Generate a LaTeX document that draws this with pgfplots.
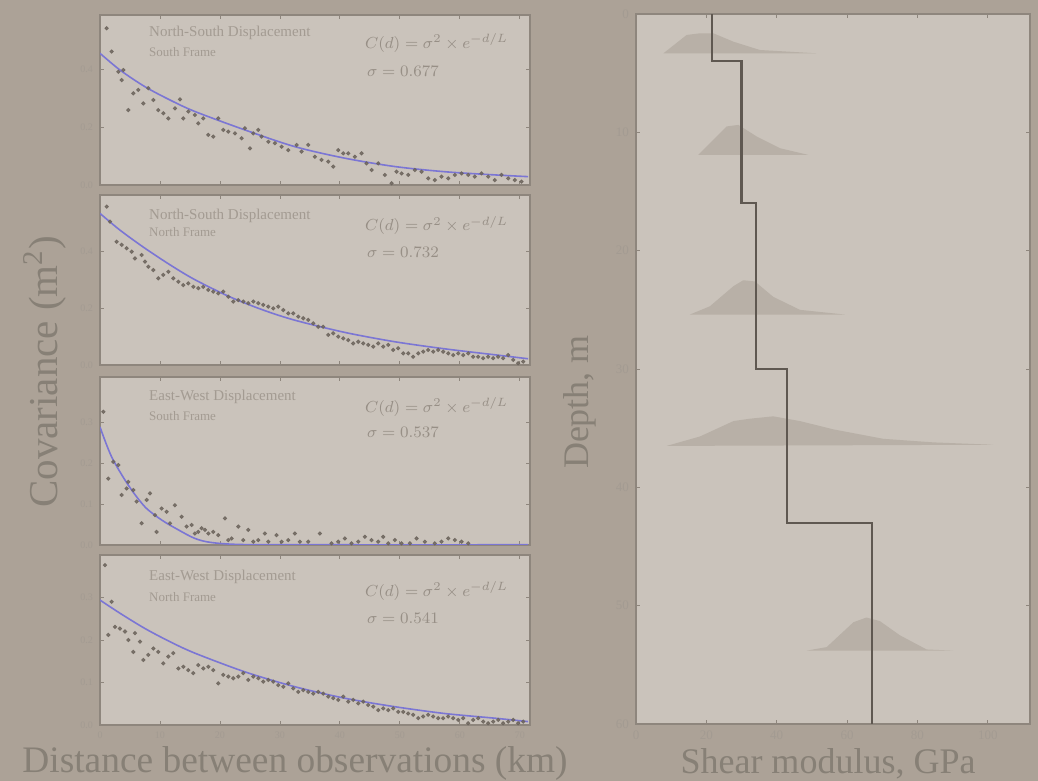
\documentclass[border=0pt]{standalone}
\usepackage{fontspec}
\setmainfont{Liberation Serif}
\usepackage{pgfplots}
\pgfplotsset{compat=1.18}
\definecolor{bgc}{HTML}{ACA297}
\definecolor{panelc}{HTML}{CAC3BB}
\definecolor{framec}{HTML}{8E867D}
\definecolor{faint}{HTML}{A39B92}
\definecolor{formc}{HTML}{978F86}
\definecolor{dotc}{HTML}{6A625A}
\definecolor{fitc}{HTML}{7B76D4}
\definecolor{labc}{HTML}{878076}
\definecolor{stepc}{HTML}{5F5851}
\definecolor{distc}{HTML}{B8B0A7}
\pgfplotsset{
 panel/.style={scale only axis, width=215pt, height=85pt, xmin=0, xmax=71.7, ymin=0,
   axis background/.style={fill=panelc}, axis line style={draw=framec, line width=1pt},
   xtick={0,10,...,70}, tick style={draw=framec, line width=0.4pt}, major tick length=2pt,
   tick align=inside, tick label style={font=\fontsize{5}{6}\selectfont, text=faint},
   /pgf/number format/assume math mode=true, /pgf/number format/fixed,
   /pgf/number format/precision=1, /pgf/number format/fixed zerofill},
 dots/.style={only marks, mark=*, mark size=0.85pt, color=dotc, opacity=0.8},
 fit/.style={fitc, line width=0.8pt, smooth, no marks},
}
\tikzset{
 ttl/.style={anchor=west, text=faint, font=\fontsize{7.5}{8}\selectfont},
 sub/.style={anchor=west, text=faint, font=\fontsize{6.5}{7}\selectfont},
 frm/.style={anchor=west, text=formc, font=\fontsize{8.5}{9}\selectfont},
}
\begin{document}
\begin{tikzpicture}
\useasboundingbox (0,0) rectangle (519pt,390.5pt);
\fill[bgc] (0,0) rectangle (519pt,390.5pt);

% Panel 1
\begin{axis}[panel, at={(50pt,298pt)}, anchor=south west, ymax=0.59, ytick={0,0.2,0.4}, xticklabels={}]
\addplot[dots] coordinates {(1.11,0.544)(1.94,0.463)(3.06,0.393)(3.89,0.399)(3.61,0.364)(5.56,0.318)(6.39,0.330)(4.72,0.260)(7.22,0.283)(8.06,0.336)(8.89,0.295)(9.72,0.260)(10.56,0.249)(11.39,0.231)(12.5,0.266)(13.33,0.297)(13.89,0.231)(14.72,0.255)(15.83,0.243)(16.39,0.214)(17.22,0.231)(18.06,0.174)(18.89,0.168)(19.72,0.231)(20.56,0.191)(21.39,0.185)(22.5,0.179)(23.61,0.162)(24.17,0.197)(25.0,0.127)(25.56,0.179)(26.39,0.191)(26.94,0.168)(28.06,0.150)(29.17,0.145)(30.28,0.133)(31.39,0.121)(32.78,0.139)(33.61,0.116)(34.72,0.139)(35.83,0.098)(36.94,0.087)(38.06,0.081)(38.89,0.064)(39.72,0.121)(40.56,0.110)(41.39,0.110)(42.5,0.098)(43.61,0.110)(44.44,0.075)(45.28,0.052)(46.39,0.075)(47.5,0.035)(48.61,0.006)(49.44,0.046)(50.28,0.040)(51.39,0.035)(52.5,0.052)(53.61,0.046)(54.72,0.023)(55.83,0.017)(56.94,0.029)(58.06,0.023)(59.17,0.035)(60.28,0.040)(61.39,0.035)(62.5,0.029)(63.61,0.040)(64.72,0.029)(65.83,0.017)(66.94,0.035)(68.06,0.023)(69.17,0.017)(70.28,0.012)};
\addplot[fit] coordinates {(0,0.457)(3.33,0.399)(7.5,0.341)(11.67,0.295)(15.83,0.255)(24.17,0.191)(32.5,0.133)(40.83,0.093)(49.17,0.064)(57.5,0.046)(65.83,0.035)(71.39,0.029)};
\node[ttl] at (rel axis cs:0.098,0.894) {North-South Displacement};
\node[sub] at (rel axis cs:0.098,0.784) {South Frame};
\node[frm] at (rel axis cs:0.6,0.835) {$C(d)=\sigma^2\times e^{-d/L}$};
\node[frm] at (rel axis cs:0.605,0.666) {$\sigma=0.677$};
\end{axis}

% Panel 2
\begin{axis}[panel, at={(50pt,208pt)}, anchor=south west, ymax=0.6, ytick={0,0.2,0.4}, xticklabels={}]
\addplot[dots] coordinates {(1.11,0.559)(1.67,0.506)(2.78,0.435)(3.61,0.424)(4.44,0.412)(5.28,0.400)(5.83,0.376)(6.94,0.388)(7.5,0.365)(8.06,0.347)(8.89,0.335)(9.72,0.306)(10.56,0.318)(11.39,0.329)(12.22,0.306)(13.06,0.294)(13.89,0.282)(14.72,0.288)(15.56,0.276)(16.39,0.271)(17.22,0.276)(18.06,0.265)(18.89,0.259)(19.72,0.253)(20.56,0.259)(21.39,0.241)(22.22,0.224)(23.06,0.229)(23.89,0.224)(24.72,0.218)(25.56,0.224)(26.39,0.218)(27.22,0.212)(28.06,0.206)(28.89,0.200)(29.72,0.206)(30.56,0.194)(31.39,0.182)(32.22,0.182)(33.06,0.171)(33.89,0.165)(34.72,0.159)(35.56,0.147)(36.39,0.135)(37.22,0.135)(38.06,0.106)(38.89,0.112)(39.72,0.100)(40.56,0.094)(41.39,0.088)(42.22,0.076)(43.06,0.082)(43.89,0.076)(44.72,0.071)(45.56,0.065)(46.39,0.076)(47.22,0.065)(48.06,0.071)(48.89,0.053)(49.72,0.059)(50.56,0.041)(51.39,0.041)(52.22,0.029)(53.06,0.041)(53.89,0.047)(54.72,0.053)(55.56,0.047)(56.39,0.053)(57.22,0.047)(58.06,0.041)(58.89,0.035)(59.72,0.041)(60.56,0.035)(61.39,0.041)(62.22,0.029)(63.06,0.029)(63.89,0.024)(64.72,0.029)(65.56,0.024)(66.39,0.029)(67.22,0.024)(68.06,0.035)(68.89,0.018)(69.72,0.006)(70.56,0.012)};
\addplot[fit] coordinates {(0,0.535)(3.33,0.476)(7.5,0.412)(11.94,0.350)(15.83,0.301)(21.39,0.243)(26.94,0.196)(32.5,0.158)(40.83,0.115)(49.17,0.082)(57.5,0.057)(65.83,0.036)(71.39,0.022)};
\node[ttl] at (rel axis cs:0.098,0.88) {North-South Displacement};
\node[sub] at (rel axis cs:0.098,0.784) {North Frame};
\node[frm] at (rel axis cs:0.6,0.82) {$C(d)=\sigma^2\times e^{-d/L}$};
\node[frm] at (rel axis cs:0.605,0.66) {$\sigma=0.732$};
\end{axis}

% Panel 3
\begin{axis}[panel, at={(50pt,118pt)}, anchor=south west, height=84pt, ymax=0.41, ytick={0,0.1,0.2,0.3}, xticklabels={}]
\addplot[dots] coordinates {(0.56,0.325)(1.39,0.162)(2.22,0.203)(3.06,0.195)(3.61,0.122)(4.44,0.138)(4.72,0.154)(5.56,0.134)(6.11,0.106)(6.94,0.053)(7.78,0.110)(8.33,0.126)(9.17,0.073)(9.44,0.032)(10.28,0.089)(11.11,0.081)(11.67,0.053)(12.5,0.097)(13.61,0.069)(14.44,0.045)(15.28,0.049)(15.83,0.028)(16.39,0.032)(16.94,0.041)(17.5,0.037)(18.06,0.028)(18.89,0.032)(19.72,0.024)(20.83,0.065)(21.39,0.012)(21.94,0.016)(23.06,0.045)(23.89,0.012)(24.72,0.037)(25.56,0.008)(26.39,0.012)(27.5,0.028)(28.06,0.008)(29.44,0.024)(30.28,0.008)(31.39,0.012)(32.5,0.028)(33.33,0.008)(34.72,0.008)(36.67,0.028)(38.61,0.004)(39.72,0.008)(40.83,0.016)(41.94,0.004)(43.06,0.008)(44.17,0.020)(45.28,0.012)(46.39,0.008)(47.22,0.020)(48.06,0.004)(49.17,0.012)(50.28,0.004)(51.67,0.004)(52.78,0.016)(54.17,0.008)(55.83,0.004)(56.94,0.008)(58.06,0.016)(59.17,0.012)(60.28,0.008)(61.39,0.004)};
\addplot[fit] coordinates {(0,0.288)(1.94,0.215)(4.72,0.146)(7.5,0.093)(10.28,0.061)(13.06,0.037)(15.83,0.016)(18.61,0.006)(24.17,0.001)(40,0.0005)(71.39,0.0005)};
\node[ttl] at (rel axis cs:0.098,0.88) {East-West Displacement};
\node[sub] at (rel axis cs:0.098,0.77) {South Frame};
\node[frm] at (rel axis cs:0.6,0.82) {$C(d)=\sigma^2\times e^{-d/L}$};
\node[frm] at (rel axis cs:0.605,0.67) {$\sigma=0.537$};
\end{axis}

% Panel 4
\begin{axis}[panel, at={(50pt,28pt)}, anchor=south west, ymax=0.4, ytick={0,0.1,0.2,0.3},
  xticklabel style={/pgf/number format/precision=0}]
\addplot[dots] coordinates {(0.83,0.376)(1.94,0.290)(1.39,0.212)(2.5,0.231)(3.33,0.227)(4.17,0.220)(4.72,0.200)(5.56,0.172)(5.83,0.216)(6.67,0.196)(7.22,0.153)(8.06,0.165)(8.89,0.180)(9.72,0.172)(10.56,0.145)(11.39,0.161)(12.22,0.169)(13.06,0.133)(13.89,0.137)(14.72,0.129)(15.56,0.122)(16.39,0.141)(17.22,0.133)(18.06,0.137)(18.89,0.129)(19.72,0.098)(20.56,0.118)(21.39,0.114)(22.22,0.110)(23.06,0.114)(23.89,0.122)(24.72,0.106)(25.56,0.114)(26.39,0.110)(27.22,0.102)(28.06,0.106)(28.89,0.102)(29.72,0.094)(30.56,0.090)(31.39,0.098)(32.22,0.086)(33.06,0.078)(33.89,0.082)(34.72,0.078)(35.56,0.074)(36.39,0.078)(37.22,0.074)(38.06,0.067)(38.89,0.063)(39.72,0.059)(40.56,0.067)(41.39,0.055)(42.22,0.059)(43.06,0.051)(43.89,0.055)(44.72,0.047)(45.56,0.043)(46.39,0.035)(47.22,0.039)(48.06,0.035)(48.89,0.039)(49.72,0.031)(50.56,0.031)(51.39,0.027)(52.22,0.024)(53.06,0.016)(53.89,0.020)(54.72,0.024)(55.56,0.020)(56.39,0.016)(57.22,0.016)(58.06,0.020)(58.89,0.016)(59.72,0.012)(60.56,0.016)(61.39,0.004)(62.22,0.012)(63.06,0.016)(63.89,0.008)(64.72,0.004)(65.56,0.008)(66.39,0.012)(67.22,0.004)(68.06,0.008)(68.89,0.012)(69.72,0.004)(70.56,0.008)};
\addplot[fit] coordinates {(0,0.294)(3.33,0.263)(7.5,0.227)(11.67,0.196)(15.83,0.169)(24.17,0.125)(32.5,0.090)(40.83,0.063)(49.17,0.043)(57.5,0.027)(65.83,0.016)(71.39,0.008)};
\node[ttl] at (rel axis cs:0.098,0.87) {East-West Displacement};
\node[sub] at (rel axis cs:0.098,0.755) {North Frame};
\node[frm] at (rel axis cs:0.6,0.79) {$C(d)=\sigma^2\times e^{-d/L}$};
\node[frm] at (rel axis cs:0.605,0.63) {$\sigma=0.541$};
\end{axis}

% Right panel
\begin{axis}[scale only axis, at={(318pt,28.5pt)}, anchor=south west, width=197pt, height=355pt,
  xmin=0, xmax=112, ymin=0, ymax=60, y dir=reverse,
  xtick={0,20,...,100}, ytick={0,10,...,60},
  axis background/.style={fill=panelc}, axis line style={draw=framec, line width=1pt},
  tick style={draw=framec, line width=0.4pt}, major tick length=2pt, tick align=inside,
  tick label style={font=\fontsize{6.5}{7}\selectfont, text=faint},
  /pgf/number format/assume math mode=true]
\addplot[fill=distc, draw=none] coordinates {(7.8,3.32)(14.4,1.77)(18.2,1.63)(22.0,1.63)(27.7,2.34)(35.2,3.04)(51.3,3.32)};
\addplot[fill=distc, draw=none] coordinates {(17.7,11.9)(25.8,9.5)(29.1,9.37)(34.3,10.35)(40.9,11.34)(48.9,11.9)};
\addplot[fill=distc, draw=none] coordinates {(15.3,25.4)(21.0,24.7)(27.7,23.0)(30.5,22.5)(33.8,22.6)(39.0,23.9)(46.6,25.0)(59.4,25.4)};
\addplot[fill=distc, draw=none] coordinates {(8.7,36.5)(18.2,35.7)(27.7,34.4)(32.4,34.2)(39.0,34.0)(46.6,34.4)(56.1,35.1)(70.3,35.9)(84.5,36.2)(101.5,36.4)};
\addplot[fill=distc, draw=none] coordinates {(48.5,53.8)(54.2,53.5)(61.8,51.4)(65.5,51.0)(69.3,51.3)(75.0,52.5)(82.6,53.7)(90.2,53.8)};
\addplot[stepc, line width=1.1pt, no marks] coordinates {(21.5,0)(21.5,4)(30,4)(30,16)(34,16)(34,30)(43,30)(43,43)(67,43)(67,60)};
\end{axis}

% Big labels
\node[rotate=90, text=labc, font=\fontsize{20.5}{22}\selectfont] at (22.5pt,204.5pt) {Covariance (m\textsuperscript{2})};
\node[text=labc, font=\fontsize{18.7}{20}\selectfont] at (147.5pt,8.5pt) {Distance between observations (km)};
\node[rotate=90, text=labc, font=\fontsize{18}{20}\selectfont] at (290pt,189.5pt) {Depth, m};
\node[text=labc, font=\fontsize{18}{20}\selectfont] at (414pt,8.5pt) {Shear modulus, GPa};
\end{tikzpicture}
\end{document}
